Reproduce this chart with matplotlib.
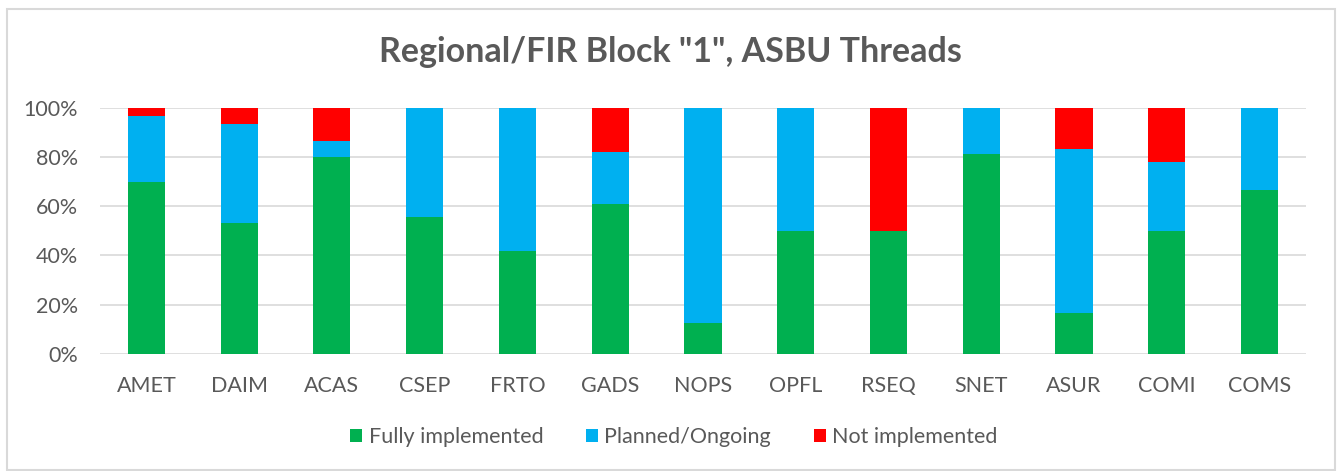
import numpy as np
import matplotlib.pyplot as plt
from matplotlib.patches import Rectangle

plt.rcParams['font.family'] = ['Lato', 'DejaVu Sans']

# ASBU threads and share (%) per status
threads = ['AMET', 'DAIM', 'ACAS', 'CSEP', 'FRTO', 'GADS', 'NOPS',
           'OPFL', 'RSEQ', 'SNET', 'ASUR', 'COMI', 'COMS']
fully = [70, 53.3, 80, 55.6, 41.7, 60.7, 12.5, 50, 50, 81.3, 16.7, 50, 66.7]
planned = [26.7, 40, 6.7, 44.4, 58.3, 21.4, 87.5, 50, 0, 18.7, 66.6, 27.8, 33.3]
notimpl = [3.3, 6.7, 13.3, 0, 0, 17.9, 0, 0, 50, 0, 16.7, 22.2, 0]

labels = ['Fully implemented', 'Planned/Ongoing', 'Not implemented']
colors = ['#00B050', '#00B0F0', '#FF0000']
txt = '#595959'

fig = plt.figure(figsize=(13.4, 4.71), dpi=100)
ax = fig.add_axes([0.0746, 0.249, 0.9, 0.522])

x = np.arange(len(threads))
f = np.array(fully)
p = np.array(planned)
n = np.array(notimpl)
ax.bar(x, f, width=0.4, color=colors[0], label=labels[0], zorder=3)
ax.bar(x, p, width=0.4, bottom=f, color=colors[1], label=labels[1], zorder=3)
ax.bar(x, n, width=0.4, bottom=f + p, color=colors[2], label=labels[2], zorder=3)

ax.set_xlim(-0.5, len(threads) - 0.5)
ax.set_ylim(0, 100)
ax.set_yticks(range(0, 101, 20))
ax.set_yticklabels([f'{v}%' for v in range(0, 101, 20)])
ax.set_xticks(x)
ax.set_xticklabels(threads)
ax.tick_params(axis='both', length=0, labelsize=15.5, labelcolor=txt)
ax.tick_params(axis='x', pad=16)
ax.tick_params(axis='y', pad=16)
ax.grid(axis='y', color='#D9D9D9', linewidth=1.2, zorder=0)
for s in ax.spines.values():
    s.set_visible(False)

# title is centred on the whole chart, not the plot area
fig.text(0.5, 0.89, 'Regional/FIR Block "1", ASBU Threads', fontsize=24.5,
         fontweight='bold', color=txt, ha='center', va='center')

fig.legend(loc='center', bbox_to_anchor=(0.503, 0.072), ncol=3,
           frameon=False, fontsize=15.5, labelcolor=txt, handlelength=0.55,
           handleheight=0.55, handletextpad=0.3, columnspacing=2.0)

# outer chart frame
fig.patches.append(Rectangle((0.005, 0.003), 0.991, 0.978, transform=fig.transFigure,
                             fill=False, edgecolor='#D9D9D9', linewidth=1.5))

fig.savefig('out.png', dpi=100)
